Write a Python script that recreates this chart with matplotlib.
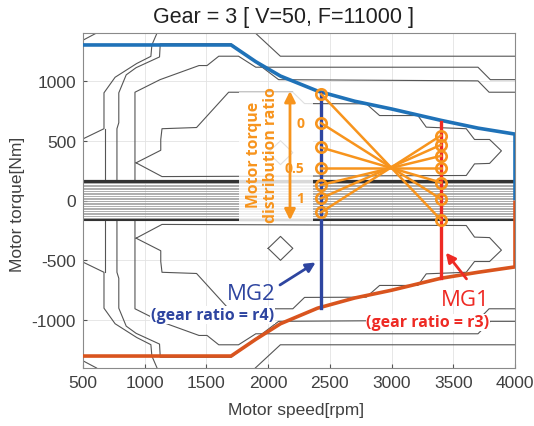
import matplotlib.pyplot as plt
from matplotlib.patches import Rectangle

# torque envelope (max = blue, min = orange)
env_speed = [500, 1700, 1900, 2100, 2400, 2700, 3000, 3400, 3700, 4000, 4000]
env_max = [1300, 1300, 1160, 1040, 915, 830, 765, 670, 605, 555, 0]
env_min = [-1300, -1300, -1160, -1030, -900, -815, -750, -650, -600, -555, 0]

# efficiency contours, upper half (lower half is mirrored)
c0_speed = [500, 610]
c0_torque = [1340, 1400]
c1_speed = [500, 500, 670, 670, 760, 935, 1050, 1058, 1100]
c1_torque = [172, 515, 600, 900, 1030, 1145, 1205, 1300, 1400]
c1b_speed = [676, 676]
c1b_torque = [172, 600]
c2_speed = [775, 775, 790, 790, 850, 930, 1120, 1126, 1700, 2085, 3700, 3790, 4000]
c2_torque = [172, 600, 650, 900, 1050, 1110, 1200, 1310, 1310, 1010, 1000, 905, 905]
c3_speed = [921, 921, 1124, 1440, 1505, 1600, 1760, 1900, 3700, 3800, 4000]
c3_torque = [172, 905, 1010, 1128, 1128, 1206, 1206, 1114, 1114, 1010, 1010]
ctop_speed = [1896, 2099, 4000]
ctop_torque = [1400, 1206, 1206]
c4_speed = [930, 1130, 1130, 1140, 1420, 1680, 2200, 2295, 2795, 2903, 3213, 3281,
            3605, 3672, 3794, 3890, 3794, 3672, 3605, 1140, 930]
c4_torque = [315, 420, 510, 600, 610, 905, 905, 810, 808, 710, 710, 613,
             600, 510, 510, 415, 310, 306, 209, 200, 315]
diamond_speed = [2000, 2100, 2200, 2100, 2000]
diamond_torque = [400, 300, 400, 500, 400]

# dense contour band around zero torque
band_torque = [172, 168, 163, 155, 143, 131, 119, 107, 93, 79, 65, 51, 37, 23, 9,
               -5, -19, -33, -47, -61, -75, -89, -103, -117, -131, -143, -152, -158, -163]

# operating points
mg2_speed = 2430
mg1_speed = 3400
mg2_line = [-900, 895]
mg1_line = [-645, 652]
mg2_pts = [889, 646, 443, 270, 130, 19, -98]
mg1_pts = [-162, 13, 150, 270, 373, 465, 543]
ratio_labels = ['0', '0.5', '1']
ratio_torque = [646, 270, 19]

BLUE = '#1f72b8'
RED_OR = '#d9541e'
ORANGE = '#f7941d'
MG2_C = '#2e45a0'
MG1_C = '#ee2a24'

plt.rcParams['font.family'] = ['Liberation Sans', 'DejaVu Sans']
plt.rcParams['axes.unicode_minus'] = False
fig = plt.figure(figsize=(5.34, 4.27), dpi=100)
ax = fig.add_axes([83 / 534, 1 - 369 / 427, 432 / 534, 335 / 427])

contours = [(c0_speed, c0_torque), (c1_speed, c1_torque), (c1b_speed, c1b_torque),
            (c2_speed, c2_torque), (c3_speed, c3_torque), (ctop_speed, ctop_torque),
            (c4_speed, c4_torque), (diamond_speed, diamond_torque)]
for sp, tq in contours:
    ax.plot(sp, tq, color='#555555', lw=0.8, zorder=2)
    ax.plot(sp, [-t for t in tq], color='#555555', lw=0.8, zorder=2)

for t in band_torque:
    if abs(t) >= 150:
        ax.axhline(t, color='#333333', lw=0.8, zorder=2)
    else:
        ax.axhline(t, color='#a0a0a0', lw=0.6, zorder=2)

# white box behind the ratio label
ax.add_patch(Rectangle((1761, -173), 600, 1078, facecolor='white', alpha=0.82,
                       edgecolor='none', zorder=3))

ax.plot(env_speed, env_max, color=BLUE, lw=2.6, zorder=4, solid_capstyle='butt')
ax.plot(env_speed, env_min, color=RED_OR, lw=2.6, zorder=4, solid_capstyle='butt')

ax.plot([mg2_speed, mg2_speed], mg2_line, color=MG2_C, lw=2.4, zorder=5)
ax.plot([mg1_speed, mg1_speed], mg1_line, color=MG1_C, lw=2.4, zorder=5)

for a, b in zip(mg2_pts, mg1_pts):
    ax.plot([mg2_speed, mg1_speed], [a, b], color=ORANGE, lw=1.8, zorder=6)
ax.plot([mg2_speed] * len(mg2_pts), mg2_pts, 'o', ms=7.5, mfc='none', mec=ORANGE, mew=1.9, zorder=7)
ax.plot([mg1_speed] * len(mg1_pts), mg1_pts, 'o', ms=7.5, mfc='none', mec=ORANGE, mew=1.9, zorder=7)

# ratio arrow and labels
ax.annotate('', xy=(2177, 915), xytext=(2177, -165),
            arrowprops=dict(arrowstyle='<|-|>', color=ORANGE, lw=2, mutation_scale=16,
                            shrinkA=0, shrinkB=0), zorder=6)
for lab, t in zip(ratio_labels, ratio_torque):
    ax.text(2295, t, lab, color=ORANGE, fontsize=10, fontweight='bold', ha='right',
            va='center', family=['Open Sans'], zorder=6)
ax.text(1955, 385, 'Motor torque\ndistribution ratio', color=ORANGE, fontsize=11.3,
        fontweight='bold', rotation=90, ha='center', va='center', family=['Open Sans'],
        linespacing=1.05, zorder=6)

# MG labels
ax.text(1866, -775, 'MG2', color=MG2_C, fontsize=16, ha='center', va='center',
        family=['Open Sans'], zorder=6)
ax.text(1549, -958, '(gear ratio = r4)', color=MG2_C, fontsize=11.5, fontweight='bold',
        ha='center', va='center', family=['Open Sans'], zorder=6,
        bbox=dict(facecolor='white', edgecolor='none', pad=0.5))
ax.annotate('', xy=(2385, -518), xytext=(2096, -706),
            arrowprops=dict(arrowstyle='-|>', color=MG2_C, lw=2, mutation_scale=14,
                            shrinkA=0, shrinkB=0), zorder=6)
ax.text(3594, -831, 'MG1', color=MG1_C, fontsize=16, ha='center', va='center',
        family=['Open Sans'], zorder=6)
ax.text(3294, -1018, '(gear ratio = r3)', color=MG1_C, fontsize=11.5, fontweight='bold',
        ha='center', va='center', family=['Open Sans'], zorder=6,
        bbox=dict(facecolor='white', edgecolor='none', pad=0.5))
ax.annotate('', xy=(3440, -436), xytext=(3607, -655),
            arrowprops=dict(arrowstyle='-|>', color=MG1_C, lw=2, mutation_scale=14,
                            shrinkA=0, shrinkB=0), zorder=6)

ax.set_xlim(500, 4000)
ax.set_ylim(-1400, 1400)
ax.set_xticks(range(500, 4001, 500))
ax.set_yticks([-1000, -500, 0, 500, 1000])
ax.grid(True, color='#e3e3e3', lw=0.6, zorder=0)
ax.set_axisbelow(True)
ax.tick_params(direction='in', length=3, labelsize=12.5, colors='#555555',
               labelcolor='#404040', pad=5)
for s in ax.spines.values():
    s.set_color('#8a8a8a')
    s.set_linewidth(0.8)

fig.text(283.5 / 534, 1 - 17 / 427, 'Gear = 3 [ V=50, F=11000 ]', fontsize=15.5,
         ha='center', va='center', color='#202020')
fig.text(296.5 / 534, 1 - 411 / 427, 'Motor speed[rpm]', fontsize=12.5,
         ha='center', va='center', color='#404040')
fig.text(18 / 534, 1 - 204 / 427, 'Motor torque[Nm]', fontsize=12.5, rotation=90,
         ha='center', va='center', color='#404040')

fig.savefig('out.png', dpi=100)
